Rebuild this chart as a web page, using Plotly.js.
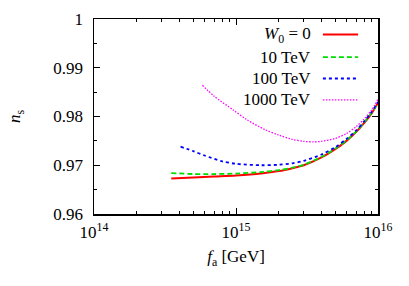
<!DOCTYPE html>
<html>
<head>
<meta charset="utf-8">
<script src="https://cdn.plot.ly/plotly-3.0.1.min.js"></script>
<style>html,body{margin:0;padding:0;background:#fff;}#chart{width:409px;height:286px;}</style>
</head>
<body>
<div id="chart"></div>
<script>
// Data
const seriesNames = ["<i>W</i><sub>0</sub> = 0", "10 TeV", "100 TeV", "1000 TeV"];
const fa_W0 = [3.5e14, 5e14, 7e14, 1e15, 1.5e15, 2e15, 2.5e15, 3e15, 4e15, 5e15, 6e15, 7e15, 8e15, 9e15, 1e16];
const ns_W0 = [0.9673, 0.9675, 0.9677, 0.9679, 0.9683, 0.9688, 0.9694, 0.9700, 0.9716, 0.9733, 0.9750, 0.9768, 0.9787, 0.9806, 0.9828];
const fa_10 = [3.5e14, 5e14, 7e14, 1e15, 1.5e15, 2e15, 2.5e15, 3e15, 4e15, 5e15, 6e15, 7e15, 8e15, 9e15, 1e16];
const ns_10 = [0.9684, 0.9682, 0.9682, 0.9683, 0.9686, 0.9690, 0.9695, 0.9701, 0.9717, 0.9734, 0.9751, 0.9769, 0.9788, 0.9807, 0.9828];
const fa_100 = [4.07e14, 5e14, 6e14, 8e14, 1e15, 1.5e15, 2e15, 2.5e15, 3e15, 4e15, 5e15, 6e15, 7e15, 8e15, 9e15, 1e16];
const ns_100 = [0.9738, 0.9729, 0.9720, 0.9708, 0.9703, 0.9700, 0.9701, 0.9704, 0.9709, 0.9722, 0.9737, 0.9754, 0.9771, 0.9790, 0.9809, 0.9830];
const fa_1000 = [5.8e14, 7e14, 9.6e14, 1.2e15, 1.6e15, 2e15, 2.5e15, 3e15, 3.5e15, 4e15, 5e15, 6e15, 7e15, 8e15, 9e15, 1e16];
const ns_1000 = [0.9864, 0.9842, 0.9813, 0.9793, 0.9773, 0.9762, 0.9753, 0.9749, 0.9748, 0.9749, 0.9755, 0.9765, 0.9779, 0.9795, 0.9813, 0.9835];
const xTickVals = [1e14, 1e15, 1e16];
const xTickText = ["10<sup>14</sup>", "10<sup>15</sup>", "10<sup>16</sup>"];
const yTickVals = [0.96, 0.97, 0.98, 0.99, 1.0];
const yTickText = ["0.96", "0.97", "0.98", "0.99", "1"];

const colors = ["#ff0000", "#00dd00", "#0000ff", "#ff00ff"];
const dashes = ["solid", "5px,3px", "3px,3px", "1.5px,1.5px"];
const widths = [2, 1.8, 1.8, 1.3];
const xs = [fa_W0, fa_10, fa_100, fa_1000];
const ys = [ns_W0, ns_10, ns_100, ns_1000];

const traces = xs.map((x, i) => ({
  x: x, y: ys[i], type: "scatter", mode: "lines", name: seriesNames[i],
  line: {color: colors[i], dash: dashes[i], width: widths[i], shape: "spline", smoothing: 0.8},
  showlegend: false
}));

const font = {family: "'Liberation Serif', serif", size: 17, color: "#000"};
const rowsY = [0.92, 0.805, 0.695, 0.585];
const annotations = seriesNames.map((t, i) => ({
  xref: "paper", yref: "paper", x: 0.771, y: rowsY[i], xanchor: "right", yanchor: "middle",
  text: t, showarrow: false, font: font
}));
const shapes = seriesNames.map((t, i) => ({
  type: "line", xref: "paper", yref: "paper", x0: 0.806, x1: 0.93, y0: rowsY[i], y1: rowsY[i],
  line: {color: colors[i], dash: dashes[i], width: widths[i]}
}));

const layout = {
  width: 409, height: 286,
  margin: {l: 94, r: 31, t: 19, b: 72},
  paper_bgcolor: "#fff", plot_bgcolor: "#fff",
  font: font,
  showlegend: false,
  xaxis: {
    type: "log", range: [14, 16], tickvals: xTickVals, ticktext: xTickText,
    ticks: "inside", ticklen: 6, tickwidth: 1, tickcolor: "#000",
    ticklabelstandoff: 2,
    minor: {dtick: "D1", ticks: "inside", ticklen: 3, tickcolor: "#000", showgrid: false},
    showline: true, linecolor: "#000", linewidth: 1.5, mirror: "allticks",
    showgrid: false, zeroline: false,
    title: {text: "<i>f</i><sub>a</sub> [GeV]", font: font, standoff: 9}
  },
  yaxis: {
    range: [0.96, 1.0], tickvals: yTickVals, ticktext: yTickText,
    ticks: "inside", ticklen: 6, tickwidth: 1, tickcolor: "#000",
    ticklabelstandoff: 6,
    minor: {dtick: 0.005, tick0: 0.96, ticks: "inside", ticklen: 3, tickcolor: "#000", showgrid: false},
    showline: true, linecolor: "#000", linewidth: 1.5, mirror: "allticks",
    showgrid: false, zeroline: false,
    title: {text: "<i>n</i><sub>s</sub>", font: font, standoff: 28}
  },
  annotations: annotations,
  shapes: shapes
};

Plotly.newPlot("chart", traces, layout, {staticPlot: true, displayModeBar: false});
</script>
</body>
</html>
